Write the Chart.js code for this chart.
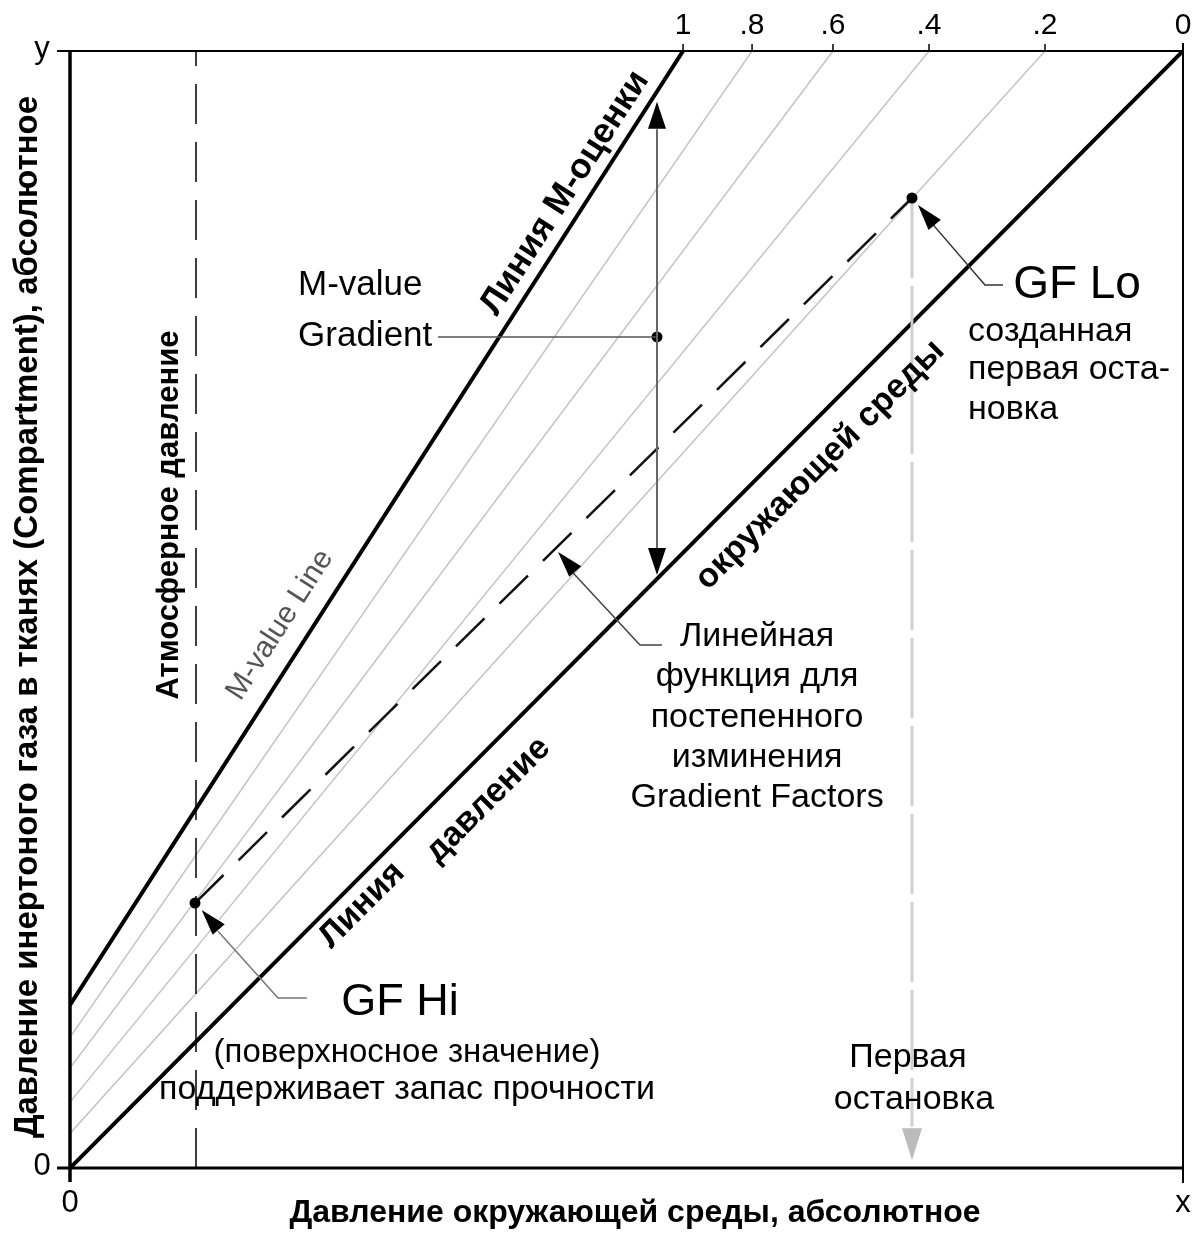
<!DOCTYPE html>
<html>
<head>
<meta charset="utf-8">
<script src="https://cdn.jsdelivr.net/npm/chart.js@4.4.1/dist/chart.umd.min.js"></script>
<style>
  html, body { margin: 0; padding: 0; background: #fff; }
  #wrap { width: 1198px; height: 1235px; }
</style>
</head>
<body>
<div id="wrap"><canvas id="gfChart" width="1198" height="1235"></canvas></div>
<script>
// gradient factor lines, each from the y axis up to the top edge
const gfLabels = ['1', '.8', '.6', '.4', '.2', '0'];
const gfLeftY = [1.46, 1.17, 0.895, 0.59, 0.31, 0];
const gfTopX = [5.508, 6.128, 6.855, 7.718, 8.76, 10];

const gfHi = { x: 1.123, y: 2.372 };
const gfLo = { x: 7.565, y: 8.684 };
const gradientDot = { x: 5.274, y: 7.44 };
const atmosphericX = 1.132;
const firstStopEnd = 0.37;
const axisMax = 10;

const FONT = '"Liberation Sans", Arial, sans-serif';

const lineSets = gfLabels.map((lab, i) => {
    const edge = i === 0 || i === gfLabels.length - 1;
    return {
        label: 'GF ' + lab,
        data: [{ x: 0, y: gfLeftY[i] }, { x: gfTopX[i], y: axisMax }],
        showLine: true,
        borderColor: edge ? '#000' : '#c4c4c4',
        borderWidth: edge ? 4 : 1.5,
        pointRadius: 0
    };
});

const diagramPlugin = {
    id: 'diagram',
    afterDatasetsDraw(chart) {
        const ctx = chart.ctx;
        const xs = chart.scales.x, ys = chart.scales.y, a = chart.chartArea;
        const X = v => xs.getPixelForValue(v);
        const Y = v => ys.getPixelForValue(v);

        function line(pts, color, w) {
            ctx.save();
            ctx.strokeStyle = color;
            ctx.lineWidth = w;
            ctx.beginPath();
            pts.forEach((p, i) => i ? ctx.lineTo(p[0], p[1]) : ctx.moveTo(p[0], p[1]));
            ctx.stroke();
            ctx.restore();
        }
        function head(tx, ty, fx, fy, len, half, color) {
            const ang = Math.atan2(ty - fy, tx - fx);
            ctx.save();
            ctx.fillStyle = color;
            ctx.translate(tx, ty);
            ctx.rotate(ang);
            ctx.beginPath();
            ctx.moveTo(0, 0);
            ctx.lineTo(-len, -half);
            ctx.lineTo(-len, half);
            ctx.closePath();
            ctx.fill();
            ctx.restore();
        }
        function txt(s, x, y, font, align, angle, color) {
            ctx.save();
            ctx.fillStyle = color || '#000';
            ctx.font = font;
            ctx.textAlign = align || 'center';
            ctx.textBaseline = 'middle';
            ctx.translate(x, y);
            if (angle) ctx.rotate(angle);
            ctx.fillText(s, 0, 0);
            ctx.restore();
        }

        // frame
        line([[a.left - 13, a.top], [a.right, a.top]], '#000', 2);
        line([[a.left, a.top], [a.left, a.bottom + 14]], '#000', 3.5);
        line([[a.left - 13, a.bottom], [a.right, a.bottom]], '#000', 3);
        line([[a.right, a.top - 8], [a.right, a.bottom + 15]], '#000', 2);
        gfTopX.forEach((v, i) => {
            line([[X(v), a.top], [X(v), a.top - 7]], '#000', 1.5);
            txt(gfLabels[i], X(v), a.top - 25, '30px ' + FONT);
        });
        txt('y', a.left - 28, a.top - 2, '31px ' + FONT);
        txt('0', a.left - 28, a.bottom - 2, '31px ' + FONT);
        txt('0', a.left, a.bottom + 35, '31px ' + FONT);
        txt('x', a.right, a.bottom + 35, '31px ' + FONT);

        // axis titles
        txt('Давление инертоного газа в тканях (Compartment), абсолютное', a.left - 42, 617,
            'bold 33px ' + FONT, 'center', -Math.PI / 2);
        txt('Давление окружающей среды, абсолютное', 635, a.bottom + 45, 'bold 32px ' + FONT);

        // angles of M-value line and ambient line
        const mAng = Math.atan2(Y(axisMax) - Y(gfLeftY[0]), X(gfTopX[0]) - X(0));
        const aAng = Math.atan2(Y(axisMax) - Y(0), X(axisMax) - X(0));

        txt('Линия М-оценки', X(4.447), Y(8.729), 'bold 35px ' + FONT, 'center', mAng);
        txt('M-value Line', X(1.887), Y(4.861), '30px ' + FONT, 'center', mAng, '#555');
        txt('Атмосферное давление', X(0.898), Y(5.846), 'bold 31px ' + FONT, 'center', -Math.PI / 2);
        txt('Линия', X(2.624), Y(2.354), 'bold 34px ' + FONT, 'center', aAng);
        txt('давление', X(3.756), Y(3.295), 'bold 34px ' + FONT, 'center', aAng);
        txt('окружающей среды', X(6.739), Y(6.294), 'bold 34px ' + FONT, 'center', aAng);

        // M-value gradient
        txt('M-value', X(2.049), Y(7.905), '35px ' + FONT, 'left');
        txt('Gradient', X(2.049), Y(7.449), '35px ' + FONT, 'left');
        line([[X(3.306), Y(gradientDot.y)], [X(gradientDot.x), Y(gradientDot.y)]], '#555', 1.5);
        line([[X(gradientDot.x), Y(9.3)], [X(gradientDot.x), Y(5.55)]], '#666', 2);
        head(X(gradientDot.x), Y(9.546), X(gradientDot.x), Y(8), 27, 9, '#000');
        head(X(gradientDot.x), Y(5.309), X(gradientDot.x), Y(7), 27, 9, '#000');

        // GF Hi
        txt('GF Hi', X(2.965), Y(1.477), '45px ' + FONT);
        txt('(поверхносное значение)', X(3.028), Y(1.03), '33px ' + FONT);
        txt('поддерживает запас прочности', X(3.028), Y(0.698), '34px ' + FONT);
        line([[X(2.129), Y(1.522)], [X(1.869), Y(1.522)], [X(1.33), Y(2.12)]], '#777', 1.5);
        head(X(1.183), Y(2.31), X(1.869), Y(1.522), 26, 8, '#000');

        // GF Lo
        txt('GF Lo', X(9.048), Y(7.905), '46px ' + FONT);
        txt('созданная', X(8.068), Y(7.484), '34px ' + FONT, 'left');
        txt('первая оста-', X(8.068), Y(7.144), '34px ' + FONT, 'left');
        txt('новка', X(8.068), Y(6.786), '34px ' + FONT, 'left');
        line([[X(8.383), Y(7.905)], [X(8.221), Y(7.905)], [X(7.75), Y(8.45)]], '#333', 1.5);
        head(X(7.619), Y(8.621), X(8.221), Y(7.905), 26, 8, '#000');

        // linear function
        ['Линейная', 'функция для', 'постепенного', 'изминения', 'Gradient Factors']
            .forEach((s, i) => txt(s, X(6.173), Y([4.754, 4.396, 4.029, 3.671, 3.312][i]), '34px ' + FONT));
        line([[X(5.319), Y(4.682)], [X(5.121), Y(4.682)], [X(4.5), Y(5.35)]], '#444', 1.5);
        head(X(4.385), Y(5.515), X(5.121), Y(4.682), 26, 8, '#000');

        // first stop
        txt('Первая', X(7.529), Y(0.985), '34px ' + FONT);
        txt('остановка', X(7.583), Y(0.609), '34px ' + FONT);
        head(X(gfLo.x), Y(0.07), X(gfLo.x), Y(2), 32, 10, '#bbb');
    }
};

new Chart(document.getElementById('gfChart'), {
    type: 'scatter',
    data: {
        datasets: [
            {
                label: 'points',
                data: [gfHi, gfLo, gradientDot],
                pointRadius: 5.5,
                pointBackgroundColor: '#000',
                pointBorderWidth: 0,
                showLine: false
            },
            {
                label: 'gf path',
                data: [gfHi, gfLo],
                showLine: true,
                borderColor: '#111',
                borderWidth: 2.5,
                borderDash: [40, 21],
                pointRadius: 0
            },
            {
                label: 'atmospheric',
                data: [{ x: atmosphericX, y: 0 }, { x: atmosphericX, y: axisMax }],
                showLine: true,
                borderColor: '#000',
                borderWidth: 1.5,
                borderDash: [40, 18],
                pointRadius: 0
            },
            {
                label: 'first stop',
                data: [gfLo, { x: gfLo.x, y: firstStopEnd }],
                showLine: true,
                borderColor: '#d0d0d0',
                borderWidth: 3,
                borderDash: [80, 8],
                pointRadius: 0
            },
            ...lineSets
        ]
    },
    options: {
        responsive: false,
        animation: false,
        layout: { padding: { left: 70, right: 15, top: 51, bottom: 67 } },
        scales: {
            x: { type: 'linear', min: 0, max: axisMax, display: false },
            y: { type: 'linear', min: 0, max: axisMax, display: false }
        },
        plugins: {
            legend: { display: false },
            tooltip: { enabled: false }
        }
    },
    plugins: [diagramPlugin]
});
</script>
</body>
</html>
